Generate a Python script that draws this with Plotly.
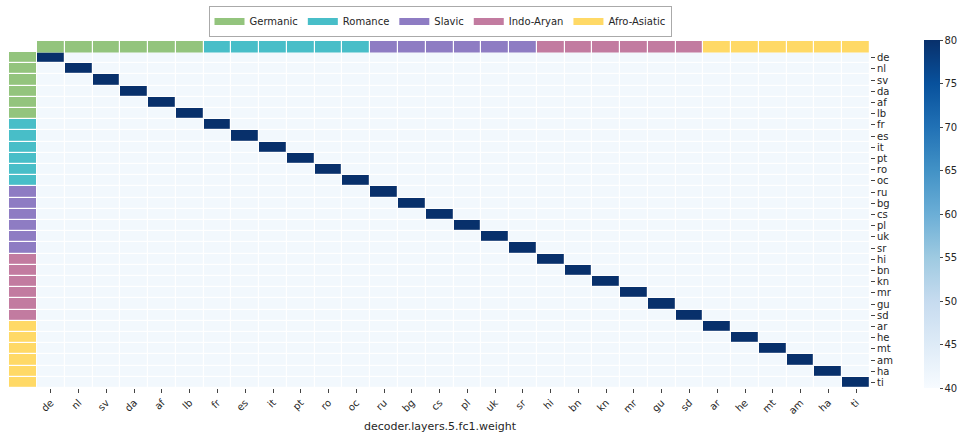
import plotly.graph_objects as go

langs = ["de", "nl", "sv", "da", "af", "lb", "fr", "es", "it", "pt", "ro", "oc",
         "ru", "bg", "cs", "pl", "uk", "sr", "hi", "bn", "kn", "mr", "gu", "sd",
         "ar", "he", "mt", "am", "ha", "ti"]
families = ["Germanic", "Romance", "Slavic", "Indo-Aryan", "Afro-Asiatic"]
family_of_lang = [0]*6 + [1]*6 + [2]*6 + [3]*6 + [4]*6
family_colors = ["#93c47d", "#48bec8", "#8e7cc3", "#c27ba0", "#ffd966"]
diag_value = 80.0
off_value = 41.0
zmin, zmax = 40, 80
cbar_ticks = [40, 45, 50, 55, 60, 65, 70, 75, 80]

n = len(langs)
z = [[diag_value if i == j else off_value for j in range(n)] for i in range(n)]

# discrete colorscale for family strips
k = len(families)
fam_scale = []
for i, c in enumerate(family_colors):
    fam_scale.append([i / k, c])
    fam_scale.append([(i + 1) / k, c])

W, H = 961, 433
def px_x(p): return p / W
def px_y(p): return 1 - p / H

font = dict(family="DejaVu Sans", size=10, color="#262626")

fig = go.Figure()

fig.add_trace(go.Heatmap(
    z=z, x=langs, y=langs, zmin=zmin, zmax=zmax, colorscale="Blues",
    xgap=1.2, ygap=1.2, xaxis="x", yaxis="y", showlegend=False,
    colorbar=dict(x=px_x(924), xanchor="left", xpad=0, ypad=0, thickness=16,
                  y=px_y(388), yanchor="bottom", len=(388 - 40) / H,
                  lenmode="fraction", tickvals=cbar_ticks, ticks="outside",
                  ticklen=3, tickcolor="#444", outlinewidth=0,
                  tickfont=font),
))

# top strip
fig.add_trace(go.Heatmap(
    z=[family_of_lang], x=langs, y=["fam"], zmin=-0.5, zmax=k - 0.5,
    colorscale=fam_scale, showscale=False, xgap=1.2, ygap=0,
    xaxis="x", yaxis="y2", hoverinfo="skip",
))
# left strip
fig.add_trace(go.Heatmap(
    z=[[f] for f in family_of_lang], x=["fam"], y=langs, zmin=-0.5, zmax=k - 0.5,
    colorscale=fam_scale, showscale=False, xgap=0, ygap=1.2,
    xaxis="x2", yaxis="y", hoverinfo="skip",
))

# legend entries
for name, c in zip(families, family_colors):
    fig.add_trace(go.Scatter(
        x=[None], y=[None], mode="lines", name=name,
        line=dict(color=c, width=7), xaxis="x", yaxis="y",
    ))

fig.update_layout(
    width=W, height=H, margin=dict(l=0, r=0, t=0, b=0, autoexpand=False),
    paper_bgcolor="white", plot_bgcolor="white", font=font,
    xaxis=dict(domain=[px_x(37), px_x(870)], tickangle=-45, ticks="outside",
               ticklen=4, tickcolor="#444", showgrid=False, zeroline=False,
               anchor="y", tickfont=font, showline=False, automargin=False,
               tickmode="array", tickvals=langs, ticktext=langs),
    yaxis=dict(domain=[px_y(388), px_y(52)], autorange="reversed", side="right",
               ticks="outside", ticklen=4, tickcolor="#444", showgrid=False,
               zeroline=False, anchor="x", tickfont=font, automargin=False,
               tickmode="array", tickvals=langs, ticktext=langs),
    xaxis2=dict(domain=[px_x(9), px_x(36)], showticklabels=False, showgrid=False,
                zeroline=False, anchor="y", automargin=False),
    yaxis2=dict(domain=[px_y(52.5), px_y(41)], showticklabels=False, showgrid=False,
                zeroline=False, anchor="x", automargin=False),
    showlegend=True,
    legend=dict(orientation="h", x=px_x(440), xanchor="center", y=px_y(6),
                yanchor="top", bordercolor="#aaaaaa", borderwidth=1,
                bgcolor="white", font=dict(family="DejaVu Sans", size=10, color="#262626"),
                itemwidth=30, tracegroupgap=0),
    annotations=[dict(text="decoder.layers.5.fc1.weight", x=px_x(440), y=px_y(426),
                      xref="paper", yref="paper", showarrow=False,
                      font=dict(family="DejaVu Sans", size=11, color="#262626"),
                      yanchor="middle")],
)

fig.write_html("out.html", config={"displayModeBar": False},
               post_script="document.body.style.margin='0';document.body.style.padding='0';")
